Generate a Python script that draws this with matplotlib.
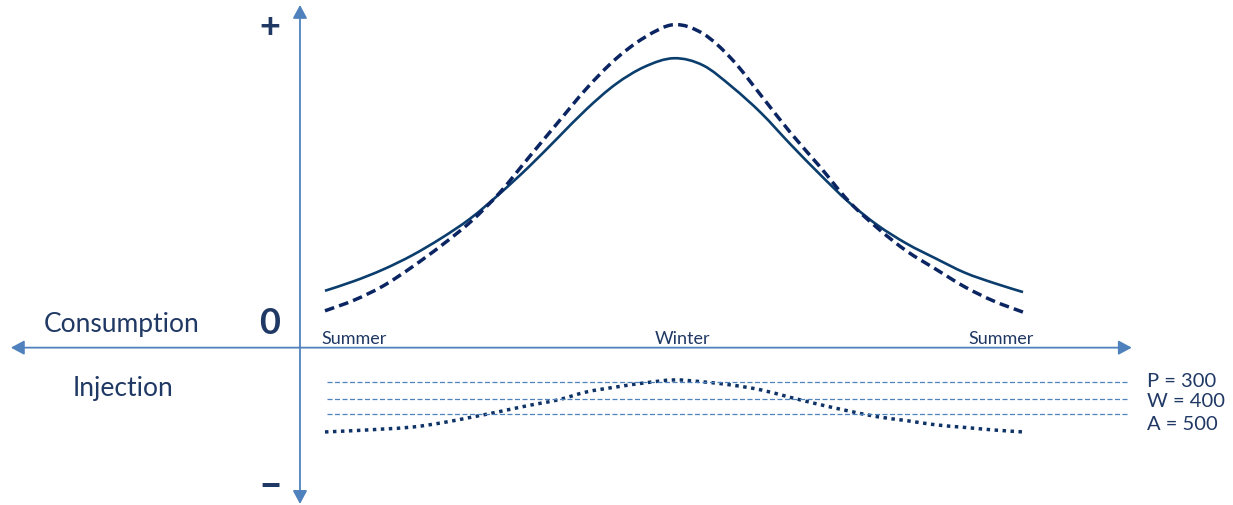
import numpy as np
import matplotlib.pyplot as plt
from matplotlib.path import Path
from matplotlib.patches import PathPatch

# season axis: months from summer (0) through winter (6) back to summer (12)
months = np.arange(0, 12.5, 0.5)

# consumption profiles (relative units, dashed peak = 100)
consumption_solid = [17.4, 20.4, 24.0, 28.4, 33.7, 39.8, 47.4, 55.7, 64.7, 73.7, 81.4, 86.8, 89.4,
                     87.2, 80.5, 72.4, 62.8, 53.6, 44.9, 37.7, 32.0, 27.4, 23.0, 19.8, 17.0]
consumption_dashed = [11.2, 14.5, 18.9, 24.8, 31.4, 38.7, 47.7, 58.6, 69.4, 80.1, 89.2, 95.9, 99.8,
                      97.0, 89.0, 77.8, 66.4, 56.0, 45.2, 36.8, 29.7, 24.1, 18.6, 14.2, 10.8]
injection_dotted = [-26.3, -25.9, -25.4, -24.8, -23.5, -21.8, -20.0, -18.1, -16.4, -13.9, -12.4, -11.1, -10.2,
                    -10.8, -11.8, -13.3, -15.6, -17.8, -19.8, -21.6, -22.8, -24.1, -24.9, -25.7, -26.3]

# injection levels
level_names = ["P = 300", "W = 400", "A = 500"]
level_values = [-10.9, -16.1, -20.7]
level_label_y = [-12.1, -18.3, -25.4]

season_labels = ["Summer", "Winter", "Summer"]
season_pos = [0.5, 6.14, 11.62]

NAVY_TEXT = "#1f3864"
AXIS_BLUE = "#4f81bd"
FONT = "Lato"


def smooth_path(x, y):
    # smoothed line through the points, like office "smoothed line" charts
    pts = np.column_stack([x, y])
    n = len(pts)
    verts = [pts[0]]
    codes = [Path.MOVETO]
    for i in range(n - 1):
        p0 = pts[max(i - 1, 0)]
        p1 = pts[i]
        p2 = pts[i + 1]
        p3 = pts[min(i + 2, n - 1)]
        verts += [p1 + (p2 - p0) / 6, p2 - (p3 - p1) / 6, p2]
        codes += [Path.CURVE4] * 3
    return Path(verts, codes)


fig = plt.figure(figsize=(12.33, 5.06), dpi=100)
ax = fig.add_axes([0, 0, 1, 1])
ax.set_xlim(-5.587, 15.61)
ax.set_ylim(-48.92, 107.74)
ax.axis("off")

# axes arrows
arrow_kw = dict(arrowstyle="<|-|>,head_length=8,head_width=4.3", color=AXIS_BLUE,
                lw=1.3, shrinkA=0, shrinkB=0, mutation_scale=1)
ax.annotate("", xy=(13.87, -0.2), xytext=(-5.40, -0.2), arrowprops=arrow_kw)
ax.annotate("", xy=(-0.43, 105.9), xytext=(-0.43, -48.6), arrowprops=arrow_kw)

# injection level lines
ax.hlines(level_values, 0.03, 13.8, colors=AXIS_BLUE, lw=0.9, linestyles=(0, (4, 2)))
for name, y in zip(level_names, level_label_y):
    ax.text(14.13, y, name, ha="left", va="baseline", fontsize=14.5, color=NAVY_TEXT, family=FONT)

# curves
ax.add_patch(PathPatch(smooth_path(months, consumption_solid), fill=False,
                       edgecolor="#0b3d6d", lw=1.9, capstyle="butt"))
ax.add_patch(PathPatch(smooth_path(months, consumption_dashed), fill=False,
                       edgecolor="#0b2462", lw=2.5, linestyle=(0, (2.8, 1.5)), capstyle="butt"))
ax.add_patch(PathPatch(smooth_path(months, injection_dotted), fill=False,
                       edgecolor="#0f3366", lw=2.5, linestyle=(0, (1, 1.3)), capstyle="butt"))

# season labels
for lab, x in zip(season_labels, season_pos):
    ax.text(x, 1.2, lab, ha="center", va="baseline", fontsize=13, color=NAVY_TEXT, family=FONT)

# side labels
ax.text(-3.49, 4.95, "Consumption", ha="center", va="baseline", fontsize=19, color=NAVY_TEXT, family=FONT)
ax.text(-3.47, -14.8, "Injection", ha="center", va="baseline", fontsize=19, color=NAVY_TEXT, family=FONT)

ax.text(-0.946, 4.33, "0", ha="center", va="baseline", fontsize=26, fontweight="bold",
        color=NAVY_TEXT, family=FONT)
ax.text(-0.946, 96.0, "+", ha="center", va="baseline", fontsize=26, fontweight="bold",
        color=NAVY_TEXT, family=FONT)
ax.text(-0.946, -46.5, "\u2013", ha="center", va="baseline", fontsize=30, fontweight="bold",
        color=NAVY_TEXT, family=FONT)

fig.savefig("out.png", dpi=100)
